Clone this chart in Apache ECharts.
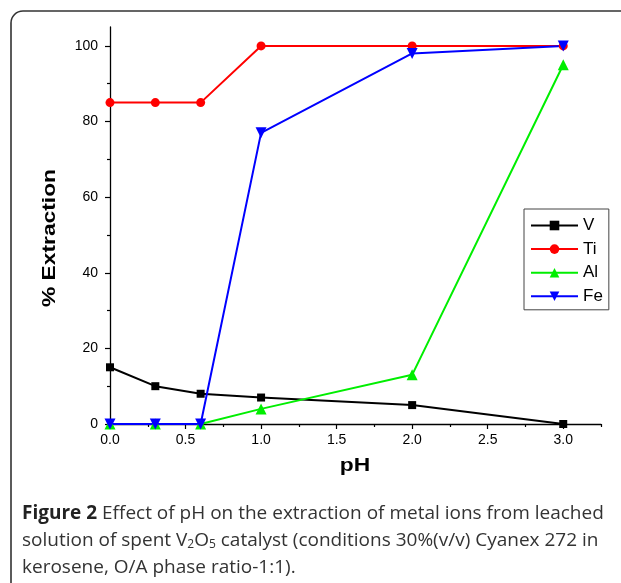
<!DOCTYPE html>
<html>
<head>
<meta charset="utf-8">
<script src="https://cdn.jsdelivr.net/npm/echarts@6/dist/echarts.min.js"></script>
<style>
html,body{margin:0;padding:0;background:#fff;}
#chart{width:621px;height:583px;}
</style>
</head>
<body>
<div id="chart"></div>
<script>
// ---- data ----
const phValues = [0.0, 0.3, 0.6, 1.0, 2.0, 3.0];
const vValues  = [15, 10, 8, 7, 5, 0];
const tiValues = [85, 85, 85, 100, 100, 100];
const alValues = [0, 0, 0, 4, 13, 95];
const feValues = [0, 0, 0, 77, 98, 100];
const seriesNames = ['V', 'Ti', 'Al', 'Fe'];
const xMajorTicks = [0, 0.5, 1.0, 1.5, 2.0, 2.5, 3.0];
const xMinorTicks = [0.25, 0.75, 1.25, 1.75, 2.25, 2.75, 3.25];
const yMajorTicks = [0, 20, 40, 60, 80, 100];
const yMinorTicks = [10, 30, 50, 70, 90];
const xTitle = 'pH';
const yTitle = '% Extraction';
const captionBold = 'Figure 2';
const captionLines = [
  ' Effect of pH on the extraction of metal ions from leached',
  'solution of spent V{s|2}O{s|5} catalyst (conditions 30%(v/v) Cyanex 272 in',
  'kerosene, O/A phase ratio-1:1).'
];

const pair = (ys) => phValues.map((x, i) => [x, ys[i]]);
const AX = 'Liberation Sans, Arial, sans-serif';

const chart = echarts.init(document.getElementById('chart'), null, {renderer: 'canvas'});

function mkSeries(name, ys, color, symbol, size, rot) {
  return {
    name, type: 'line', data: pair(ys),
    xAxisIndex: 0, yAxisIndex: 0,
    symbol, symbolSize: size, symbolRotate: rot || 0,
    showSymbol: true,
    lineStyle: {color, width: 2},
    itemStyle: {color, borderWidth: 0},
    emphasis: {disabled: true},
    animation: false
  };
}

const axisLineStyle = {show: true, lineStyle: {color: '#000', width: 1.3}};

const option = {
  animation: false,
  backgroundColor: '#fff',
  grid: {left: 110, right: 20, top: 27, bottom: 159, containLabel: false},
  xAxis: [
    {
      type: 'value', min: 0, max: 3.25, position: 'bottom',
      axisLine: axisLineStyle,
      axisTick: {show: true, length: 5, inside: false, customValues: xMajorTicks, lineStyle: {color: '#000', width: 1.2}},
      axisLabel: {customValues: xMajorTicks, formatter: v => v.toFixed(1), fontFamily: AX, fontSize: 14, color: '#000', margin: 9},
      splitLine: {show: false}
    },
    {
      type: 'value', min: 0, max: 3.25, position: 'bottom',
      axisLine: {show: false},
      axisTick: {show: true, length: 3, inside: false, customValues: xMinorTicks, lineStyle: {color: '#000', width: 1.2}},
      axisLabel: {show: false},
      splitLine: {show: false}
    }
  ],
  yAxis: [
    {
      type: 'value', min: 0, max: 105, position: 'left',
      axisLine: axisLineStyle,
      axisTick: {show: true, length: 5, inside: false, customValues: yMajorTicks, lineStyle: {color: '#000', width: 1.2}},
      axisLabel: {customValues: yMajorTicks, fontFamily: AX, fontSize: 14, color: '#000', margin: 12},
      splitLine: {show: false}
    },
    {
      type: 'value', min: 0, max: 105, position: 'left',
      axisLine: {show: false},
      axisTick: {show: true, length: 3, inside: false, customValues: yMinorTicks, lineStyle: {color: '#000', width: 1.2}},
      axisLabel: {show: false},
      splitLine: {show: false}
    }
  ],
  legend: {
    data: seriesNames,
    orient: 'vertical',
    left: 524, top: 209,
    padding: [8, 6, 5, 6],
    itemWidth: 47, itemHeight: 12, itemGap: 6.6,
    borderColor: '#444', borderWidth: 1,
    backgroundColor: '#fff',
    textStyle: {fontFamily: AX, fontSize: 17, color: '#000'},
    selectedMode: false
  },
  series: [
    mkSeries(seriesNames[0], vValues,  '#000000', 'rect', 8),
    mkSeries(seriesNames[1], tiValues, '#ff0000', 'circle', 9),
    mkSeries(seriesNames[2], alValues, '#00ee00', 'triangle', 11),
    mkSeries(seriesNames[3], feValues, '#0000ff', 'triangle', 11, 180)
  ],
  graphic: [
    {
      type: 'rect', z: -10, silent: true,
      shape: {x: 11, y: 11, width: 700, height: 700, r: 12},
      style: {fill: 'none', stroke: '#333', lineWidth: 1.6}
    },
    {
      type: 'text', x: 355, y: 466, scaleX: 1.2, silent: true,
      style: {text: xTitle, font: 'bold 19px ' + AX, fill: '#000', align: 'center', verticalAlign: 'middle', textAlign: 'center', textVerticalAlign: 'middle'}
    },
    {
      type: 'text', x: 50, y: 238, rotation: Math.PI / 2, scaleX: 1.2, silent: true,
      style: {text: yTitle, font: 'bold 19px ' + AX, fill: '#000', align: 'center', verticalAlign: 'middle', textAlign: 'center', textVerticalAlign: 'middle'}
    },
    {
      type: 'text', x: 22, y: 500, silent: true,
      style: {
        text: '{b|' + captionBold + '}' + captionLines.join('\n'),
        font: '19px "Open Sans", sans-serif',
        fill: '#333',
        lineHeight: 27,
        rich: {
          b: {fontFamily: 'Open Sans', fontWeight: 'bold', fontSize: 19, fill: '#222', color: '#222', lineHeight: 27},
          s: {fontFamily: 'Open Sans', fontSize: 12, lineHeight: 12, verticalAlign: 'bottom', padding: [0, 0, 3, 0], fill: '#333', color: '#333'}
        }
      }
    }
  ]
};
chart.setOption(option);
</script>
</body>
</html>
